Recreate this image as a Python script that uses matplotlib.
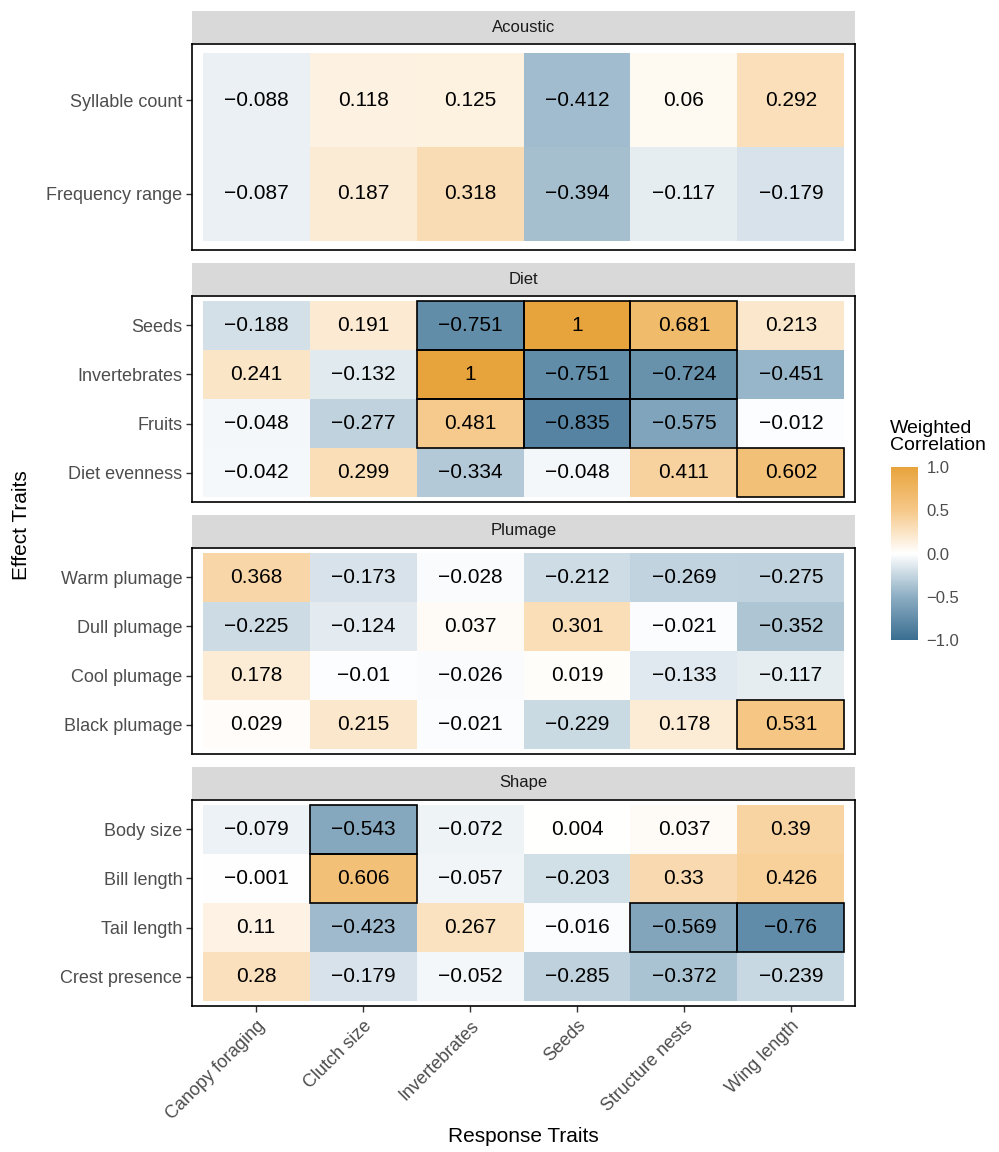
import numpy as np
import matplotlib
matplotlib.use("Agg")
import matplotlib.pyplot as plt
from matplotlib.colors import LinearSegmentedColormap, Normalize
from matplotlib.patches import Rectangle
from matplotlib.cm import ScalarMappable

plt.rcParams['font.family'] = ['Liberation Sans', 'DejaVu Sans']

RESPONSE = ['Canopy foraging', 'Clutch size', 'Invertebrates', 'Seeds',
            'Structure nests', 'Wing length']
GROUPS = ['Acoustic', 'Diet', 'Plumage', 'Shape']

ACOUSTIC_ROWS = ['Syllable count', 'Frequency range']
ACOUSTIC_VALS = [[-0.088, 0.118, 0.125, -0.412, 0.06, 0.292],
                 [-0.087, 0.187, 0.318, -0.394, -0.117, -0.179]]

DIET_ROWS = ['Seeds', 'Invertebrates', 'Fruits', 'Diet evenness']
DIET_VALS = [[-0.188, 0.191, -0.751, 1, 0.681, 0.213],
             [0.241, -0.132, 1, -0.751, -0.724, -0.451],
             [-0.048, -0.277, 0.481, -0.835, -0.575, -0.012],
             [-0.042, 0.299, -0.334, -0.048, 0.411, 0.602]]

PLUMAGE_ROWS = ['Warm plumage', 'Dull plumage', 'Cool plumage', 'Black plumage']
PLUMAGE_VALS = [[0.368, -0.173, -0.028, -0.212, -0.269, -0.275],
                [-0.225, -0.124, 0.037, 0.301, -0.021, -0.352],
                [0.178, -0.01, -0.026, 0.019, -0.133, -0.117],
                [0.029, 0.215, -0.021, -0.229, 0.178, 0.531]]

SHAPE_ROWS = ['Body size', 'Bill length', 'Tail length', 'Crest presence']
SHAPE_VALS = [[-0.079, -0.543, -0.072, 0.004, 0.037, 0.39],
              [-0.001, 0.606, -0.057, -0.203, 0.33, 0.426],
              [0.11, -0.423, 0.267, -0.016, -0.569, -0.76],
              [0.28, -0.179, -0.052, -0.285, -0.372, -0.239]]

# (row, column) cells outlined in black
ACOUSTIC_BOX = []
DIET_BOX = [(0, 2), (0, 3), (0, 4), (1, 2), (1, 3), (1, 4),
            (2, 2), (2, 3), (2, 4), (3, 5)]
PLUMAGE_BOX = [(3, 5)]
SHAPE_BOX = [(0, 1), (1, 1), (2, 4), (2, 5)]

CBAR_TICKS = [-1.0, -0.5, 0.0, 0.5, 1.0]

W, H = 999, 1152
cmap = LinearSegmentedColormap.from_list(
    'wcor', ['#3a6e91', '#8daec3', '#ffffff', '#f6c889', '#e8a43c'])
norm = Normalize(-1, 1)


def px_box(left, top, right, bottom):
    return [left / W, 1 - bottom / H, (right - left) / W, (bottom - top) / H]


def fmt(v):
    return f"{v:g}".replace('-', '\u2212')


fig = plt.figure(figsize=(W / 100, H / 100), dpi=100)

panels = [(ACOUSTIC_ROWS, ACOUSTIC_VALS, ACOUSTIC_BOX),
          (DIET_ROWS, DIET_VALS, DIET_BOX),
          (PLUMAGE_ROWS, PLUMAGE_VALS, PLUMAGE_BOX),
          (SHAPE_ROWS, SHAPE_VALS, SHAPE_BOX)]

left, right = 192, 855
strip_top = 11
panel_h, strip_h, gap = 206, 32, 13

for i, (group, (rows, vals, boxes)) in enumerate(zip(GROUPS, panels)):
    s_top = strip_top + i * (strip_h + 1 + panel_h + gap)
    p_top = s_top + strip_h + 1
    p_bot = p_top + panel_h

    # facet strip
    sax = fig.add_axes(px_box(left, s_top, right, s_top + strip_h))
    sax.set_facecolor('#d9d9d9')
    sax.set_xticks([]); sax.set_yticks([])
    for sp in sax.spines.values():
        sp.set_visible(False)
    sax.text(0.5, 0.5, group, ha='center', va='center', fontsize=12,
             color='#1a1a1a', transform=sax.transAxes)

    ax = fig.add_axes(px_box(left, p_top, right, p_bot))
    vals = np.array(vals, dtype=float)
    n = len(rows)
    ax.pcolormesh(np.arange(len(RESPONSE) + 1) - 0.5, np.arange(n + 1) - 0.5,
                  vals, cmap=cmap, norm=norm)
    for r in range(n):
        for c in range(len(RESPONSE)):
            ax.text(c, r, fmt(vals[r, c]), ha='center', va='center',
                    fontsize=15, color='black')
    for r, c in boxes:
        ax.add_patch(Rectangle((c - 0.5, r - 0.5), 1, 1, fill=False,
                               ec='black', lw=1.2, zorder=3))
    ax.set_xlim(-0.6, len(RESPONSE) - 0.4)
    ax.set_ylim(n - 0.4, -0.6)
    ax.set_yticks(range(n))
    ax.set_yticklabels(rows, fontsize=13, color='#4d4d4d')
    ax.tick_params(axis='y', length=4, width=1, color='#333333', pad=3)
    for sp in ax.spines.values():
        sp.set_color('black')
        sp.set_linewidth(1.2)
    if i == len(GROUPS) - 1:
        ax.set_xticks(range(len(RESPONSE)))
        ax.set_xticklabels(RESPONSE, fontsize=13, color='#4d4d4d',
                           rotation=45, ha='right', va='top',
                           rotation_mode='anchor')
        ax.tick_params(axis='x', length=4, width=1, color='#333333', pad=4)
    else:
        ax.set_xticks([])

fig.text(22 / W, 1 - 525 / H, 'Effect Traits', rotation=90, ha='center',
         va='center', fontsize=15, color='black')
fig.text((left + right) / 2 / W, 1 - 1137 / H, 'Response Traits',
         ha='center', va='center', fontsize=15, color='black')

cax = fig.add_axes(px_box(891, 467, 918, 640))
cb = fig.colorbar(ScalarMappable(norm=norm, cmap=cmap), cax=cax,
                  ticks=CBAR_TICKS)
cb.outline.set_visible(False)
cb.ax.set_yticklabels([f"{t:.1f}".replace('-', '\u2212') for t in CBAR_TICKS],
                      fontsize=12, color='#4d4d4d')
cb.ax.tick_params(length=0, pad=6)
fig.text(890 / W, 1 - 420 / H, 'Weighted\nCorrelation', ha='left', va='top',
         fontsize=14, color='black', linespacing=1.0)

fig.savefig('out.png', dpi=100, facecolor='white')
